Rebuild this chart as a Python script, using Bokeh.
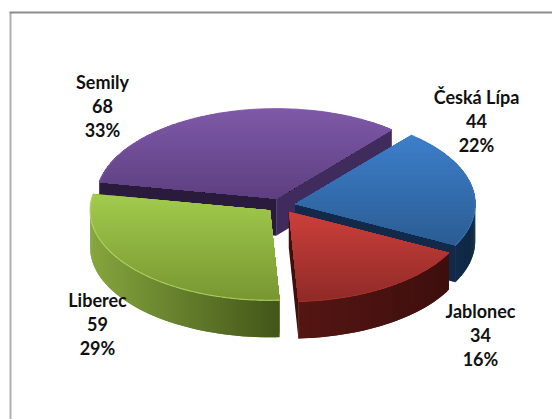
import math
from bokeh.plotting import figure
from bokeh.models import Range1d
from bokeh.core.properties import value
from bokeh.embed import file_html
from bokeh.resources import INLINE

# data
categories = ["Česká Lípa", "Jablonec", "Liberec", "Semily"]
values = [44, 34, 59, 68]
percent_labels = ["22%", "16%", "29%", "33%"]

# style / projection
START = 50.0
CX, CY = 280.5, 205.0
RX, TILT, DEPTH, EXPLODE = 180.0, 0.5, 37.0, 14.5
top_cols = {"Česká Lípa": ("#3d7fca", "#2b5c92"), "Jablonec": ("#cc3f3b", "#8e2a27"),
            "Liberec": ("#a2cb4c", "#779632"), "Semily": ("#7f59a8", "#5d3f80")}
side_cols = {"Česká Lípa": ("#173557", "#0f2743"), "Jablonec": ("#541613", "#3e0f0d"),
             "Liberec": ("#86a63e", "#435619"), "Semily": ("#4a3366", "#3d2a58")}
cut_cols = {"Česká Lípa": ("#12294a", "#12294a"), "Jablonec": ("#3e0f0d", "#3e0f0d"),
            "Liberec": ("#435619", "#435619"), "Semily": ("#2a1a3b", "#3f2b5c")}
rim_cols = {"Česká Lípa": "#3a76b8", "Jablonec": "#a8322e", "Liberec": "#b4d768", "Semily": "#7f59a8"}
label_pos = {"Česká Lípa": (476, 96), "Jablonec": (480, 310), "Liberec": (97, 299), "Semily": (102, 81)}


def lerp_hex(a, b, t):
    t = max(0.0, min(1.0, t))
    ca = [int(a[i:i + 2], 16) for i in (1, 3, 5)]
    cb = [int(b[i:i + 2], 16) for i in (1, 3, 5)]
    return "#%02x%02x%02x" % tuple(round(x + (y - x) * t) for x, y in zip(ca, cb))


def clip(poly, ymin, ymax):
    def half(pts, inside, y):
        out = []
        for i, p in enumerate(pts):
            q = pts[(i + 1) % len(pts)]
            if inside(p):
                out.append(p)
            if inside(p) != inside(q):
                t = (y - p[1]) / (q[1] - p[1])
                out.append((p[0] + t * (q[0] - p[0]), y))
        return out
    pts = half(poly, lambda p: p[1] >= ymin, ymin)
    if pts:
        pts = half(pts, lambda p: p[1] <= ymax, ymax)
    return pts


total = sum(values)
slices = {}
a = START
for c, v in zip(categories, values):
    sweep = v / total * 360
    a0, a1 = a, a - sweep
    mid = math.radians((a0 + a1) / 2)
    ax = CX + EXPLODE * math.cos(mid)
    ay = CY - EXPLODE * TILT * math.sin(mid)
    n = max(2, int(sweep))
    arc = []
    angs = []
    for i in range(n + 1):
        th = a0 + (a1 - a0) * i / n
        angs.append(th)
        arc.append((ax + RX * math.cos(math.radians(th)), ay - RX * TILT * math.sin(math.radians(th))))
    slices[c] = dict(apex=(ax, ay), arc=arc, angs=angs)
    a = a1

p = figure(width=552, height=419, output_backend="svg", toolbar_location=None,
           x_range=Range1d(0, 552), y_range=Range1d(419, 0), min_border=0)
p.axis.visible = False
p.grid.visible = False
p.outline_line_color = None
p.background_fill_color = "#ffffff"

# chart frame
p.line([10, 10], [419, 12], line_color="#b0b0b0", line_width=2)
p.line([9, 552], [12, 12], line_color="#8c8c8c", line_width=2)


def draw(xs, ys, cols):
    p.patches(xs, ys, fill_color=cols, line_color=None)


for c in ["Semily", "Česká Lípa", "Liberec", "Jablonec"]:
    s = slices[c]
    (ax, ay), arc, angs = s["apex"], s["arc"], s["angs"]
    # cut walls
    xs, ys, cols = [], [], []
    for end, col in zip((arc[0], arc[-1]), cut_cols[c]):
        xs.append([ax, end[0], end[0], ax])
        ys.append([ay, end[1], end[1] + DEPTH, ay + DEPTH])
        cols.append(col)
    draw(xs, ys, cols)
    # outer rim (painted so that each quad overlaps the seam of the next)
    xs, ys, cols = [], [], []
    minx, maxx = min(q[0] for q in arc), max(q[0] for q in arc)
    for i in range(len(arc) - 2, -1, -1):
        th = (angs[i] + angs[i + 1]) / 2
        if math.sin(math.radians(th)) < 0:
            q0 = arc[i]
            nxt = i + 2 if i + 2 < len(arc) and math.sin(math.radians(angs[i + 2])) < 0 else i + 1
            q1 = arc[nxt]
            xs.append([q0[0], q1[0], q1[0], q0[0]])
            ys.append([q0[1], q1[1], q1[1] + DEPTH, q0[1] + DEPTH])
            cols.append(lerp_hex(*side_cols[c], (min(q0[0], arc[i + 1][0]) - minx) / max(1, maxx - minx)))
    if xs:
        draw(xs, ys, cols)
    # top surface as gradient bands
    poly = [(ax, ay)] + arc
    ymin, ymax = min(q[1] for q in poly), max(q[1] for q in poly)
    xs, ys, cols = [], [], []
    y = ymin
    while y < ymax:
        b = clip(poly, y, ymax)
        if b:
            xs.append([q[0] for q in b])
            ys.append([q[1] for q in b])
            cols.append(lerp_hex(*top_cols[c], (y - ymin) / (ymax - ymin)))
        y += 2.0
    draw(xs, ys, cols)
    # bevel along the outer edge of the top
    p.line([q[0] for q in arc], [q[1] for q in arc], line_color=rim_cols[c], line_width=1.2, line_alpha=0.8)

# data labels
for c, v, pct in zip(categories, values, percent_labels):
    lx, ly = label_pos[c]
    for k, txt in enumerate([c, str(v), pct]):
        p.text([lx], [ly + k * 24], text=[txt], text_font=value("Lato"), text_font_style="bold",
               text_font_size="18px", text_color="#111111", text_align="center", text_baseline="middle")

open("out.html", "w").write(file_html(p, INLINE))
